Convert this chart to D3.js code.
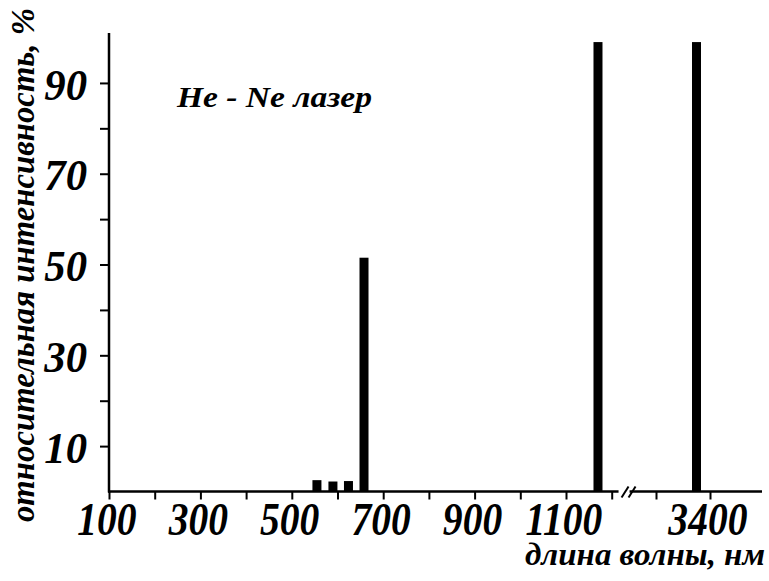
<!DOCTYPE html>
<html>
<head>
<meta charset="utf-8">
<script src="https://cdn.jsdelivr.net/npm/d3@7"></script>
<style>
  body { margin: 0; padding: 0; background: #fff; }
</style>
</head>
<body>
<script>
// He-Ne laser lines
var wavelengths = [555, 590, 624, 658, 1170, 3375];
var intensities = [2.5, 2.2, 2.3, 51.5, 99, 99];

var yTicks = [10, 20, 30, 40, 50, 60, 70, 80, 90];
var yLabels = [10, 30, 50, 70, 90];
var xLowTicks = [100, 200, 300, 400, 500, 600, 700, 800, 900, 1000, 1100, 1200];
var xLowLabels = [100, 300, 500, 700, 900, 1100];
var xHighTicks = [3300, 3400];
var xHighLabels = [3400];

var W = 769, H = 581;
var FONT = "'Liberation Serif', 'Times New Roman', serif";
var svg = d3.select("body").append("svg").attr("width", W).attr("height", H);

// scales: left part of axis up to the break, then a short piece around 3400 nm
var y = d3.scaleLinear().domain([0, 101]).range([491.5, 33]);
var xLow = d3.scaleLinear().domain([100, 1100]).range([109, 566]);
var xHigh = d3.scaleLinear().domain([3300, 3400]).range([656, 710]);
var breakAt = 1215;
var xEnd = 762;

function xPos(v) { return v > 2000 ? xHigh(v) : xLow(v); }

function bi(sel, size) {
  return sel.style("font-family", FONT).style("font-weight", "bold")
    .style("font-style", "italic").style("font-size", size + "px").attr("fill", "#000");
}

var data = wavelengths.map(function(w, i) { return { w: w, v: intensities[i] }; });

// bars
svg.selectAll("rect.bar").data(data).enter().append("rect")
  .attr("class", "bar")
  .attr("x", function(d) { return xPos(d.w) - 4.5; })
  .attr("width", 9)
  .attr("y", function(d) { return y(d.v); })
  .attr("height", function(d) { return y(0) - y(d.v); })
  .attr("fill", "#000");

// y axis
var yAxis = d3.axisLeft(y).tickValues(yTicks).tickSize(9).tickSizeOuter(0)
  .tickFormat(function(d) { return yLabels.indexOf(d) >= 0 ? d : ""; });
var gy = svg.append("g").attr("transform", "translate(" + xLow(100) + ",0)").call(yAxis);
gy.select(".domain").remove();
gy.selectAll(".tick line").attr("stroke", "#000").attr("stroke-width", 2);
bi(gy.selectAll(".tick text"), 45)
  .attr("x", -22 / 0.95).attr("dy", "0.36em").attr("transform", "scale(0.95,1)");
svg.append("line").attr("x1", xLow(100)).attr("x2", xLow(100))
  .attr("y1", y(101)).attr("y2", y(0) + 1)
  .attr("stroke", "#000").attr("stroke-width", 2.5);

// x axis, low part and high part
var xAxisLow = d3.axisBottom(xLow).tickValues(xLowTicks).tickSize(8).tickSizeOuter(0)
  .tickFormat(function(d) { return xLowLabels.indexOf(d) >= 0 ? d : ""; });
var gx1 = svg.append("g").attr("transform", "translate(0," + y(0) + ")").call(xAxisLow);
var xAxisHigh = d3.axisBottom(xHigh).tickValues(xHighTicks).tickSize(8).tickSizeOuter(0)
  .tickFormat(function(d) { return xHighLabels.indexOf(d) >= 0 ? d : ""; });
var gx2 = svg.append("g").attr("transform", "translate(0," + y(0) + ")").call(xAxisHigh);

[gx1, gx2].forEach(function(g) {
  g.select(".domain").remove();
  g.selectAll(".tick line").attr("stroke", "#000").attr("stroke-width", 2);
  bi(g.selectAll(".tick text"), 46)
    .attr("x", -3).attr("y", 43.5).attr("dy", 0).attr("transform", "scale(0.86,1)");
});

svg.append("line").attr("x1", xLow(100) - 1).attr("x2", xLow(breakAt))
  .attr("y1", y(0)).attr("y2", y(0)).attr("stroke", "#000").attr("stroke-width", 2.5);
svg.append("line").attr("x1", xLow(breakAt) + 11).attr("x2", xEnd)
  .attr("y1", y(0)).attr("y2", y(0)).attr("stroke", "#000").attr("stroke-width", 2.5);

// break marks //
[0, 7].forEach(function(dx) {
  var bx = xLow(breakAt) + 3 + dx;
  svg.append("line").attr("x1", bx).attr("y1", y(0) + 6).attr("x2", bx + 7).attr("y2", y(0) - 5)
    .attr("stroke", "#000").attr("stroke-width", 2);
});

// titles
bi(svg.append("text"), 29).attr("x", 177).attr("y", 107)
  .attr("textLength", 195).attr("lengthAdjust", "spacingAndGlyphs").text("He - Ne лазер");

bi(svg.append("text"), 31).attr("x", 525).attr("y", 565)
  .attr("textLength", 240).attr("lengthAdjust", "spacingAndGlyphs").text("длина волны, нм");

bi(svg.append("text"), 33)
  .attr("transform", "translate(34,522) rotate(-90)")
  .attr("textLength", 514).attr("lengthAdjust", "spacingAndGlyphs")
  .text("относительная интенсивность, %");
</script>
</body>
</html>
